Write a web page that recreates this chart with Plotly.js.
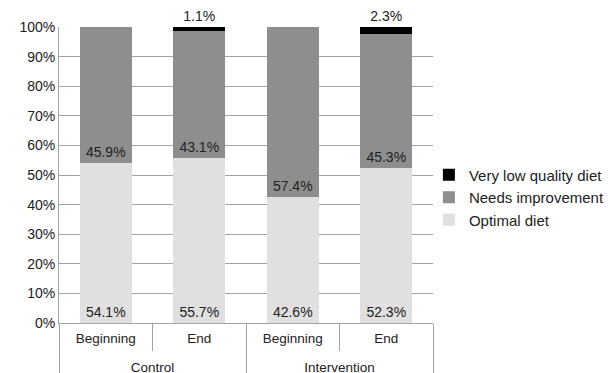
<!DOCTYPE html>
<html>
<head>
<meta charset="utf-8">
<script src="https://cdn.plot.ly/plotly-3.0.1.min.js"></script>
<style>
html,body{margin:0;padding:0;background:#fff;}
#chart{width:608px;height:373px;}
</style>
</head>
<body>
<div id="chart"></div>
<script>
// Data
const groups = ["Control", "Control", "Intervention", "Intervention"];
const phases = ["Beginning", "End", "Beginning", "End"];
const optimalDiet = [0.541, 0.557, 0.426, 0.523];
const needsImprovement = [0.459, 0.431, 0.574, 0.453];
const veryLowQuality = [0.0, 0.011, 0.0, 0.023];
const seriesNames = ["Optimal diet", "Needs improvement", "Very low quality diet"];

const fmt = v => v > 0 ? (v * 100).toFixed(1) + "%" : "";
const FONT = "Liberation Sans, Arial, Helvetica, sans-serif";
const TXT = "#222222";
const LINE = "#a3a3a3";
// second (blank, tiny) line only adds vertical room between the two label rows
const phaseLabels = phases.map(p => p + "<br><span style='font-size:2px'>&nbsp;</span>");
const x = [groups, phaseLabels];

const traces = [
  {
    type: "bar", name: seriesNames[0], x: x, y: optimalDiet, legendrank: 3,
    marker: {color: "#e0e0e0"},
    text: optimalDiet.map(fmt), textposition: "inside", insidetextanchor: "start",
    textfont: {family: FONT, size: 14, color: TXT}, hoverinfo: "skip"
  },
  {
    type: "bar", name: seriesNames[1], x: x, y: needsImprovement, legendrank: 2,
    marker: {color: "#8e8e8e"},
    text: needsImprovement.map(fmt), textposition: "inside", insidetextanchor: "start",
    textfont: {family: FONT, size: 14, color: TXT}, hoverinfo: "skip"
  },
  {
    type: "bar", name: seriesNames[2], x: x, y: veryLowQuality, legendrank: 1,
    marker: {color: "#000000"},
    text: veryLowQuality.map(fmt), textposition: "outside",
    textfont: {family: FONT, size: 14, color: TXT}, cliponaxis: false, hoverinfo: "skip"
  }
];

const layout = {
  width: 608, height: 373,
  margin: {l: 59, r: 175, t: 27, b: 50, pad: 0, autoexpand: false},
  paper_bgcolor: "#ffffff", plot_bgcolor: "#ffffff",
  font: {family: FONT, size: 14, color: TXT},
  barmode: "stack",
  bargap: 0.44,
  showlegend: true,
  legend: {
    x: 0.989, xanchor: "left", y: 0.424, yanchor: "middle",
    traceorder: "normal", tracegroupgap: 0,
    font: {family: FONT, size: 15, color: TXT},
    itemwidth: 30, bgcolor: "rgba(0,0,0,0)"
  },
  xaxis: {
    type: "multicategory",
    showline: true, linecolor: LINE, linewidth: 1,
    ticks: "outside", ticklen: 27, tickcolor: LINE, tickwidth: 1,
    ticklabelstandoff: 3,
    showdividers: true, dividercolor: LINE, dividerwidth: 1,
    showgrid: false, automargin: false,
    tickfont: {family: FONT, size: 13.5, color: TXT}
  },
  yaxis: {
    range: [0, 1], tickformat: ".0%", dtick: 0.1, tick0: 0,
    showline: true, linecolor: LINE, linewidth: 1,
    showgrid: true, gridcolor: LINE, gridwidth: 1,
    zeroline: false, ticks: "", ticklen: 0,
    automargin: false,
    tickfont: {family: FONT, size: 14, color: TXT}
  }
};

Plotly.newPlot("chart", traces, layout, {staticPlot: true, displayModeBar: false});
</script>
</body>
</html>
